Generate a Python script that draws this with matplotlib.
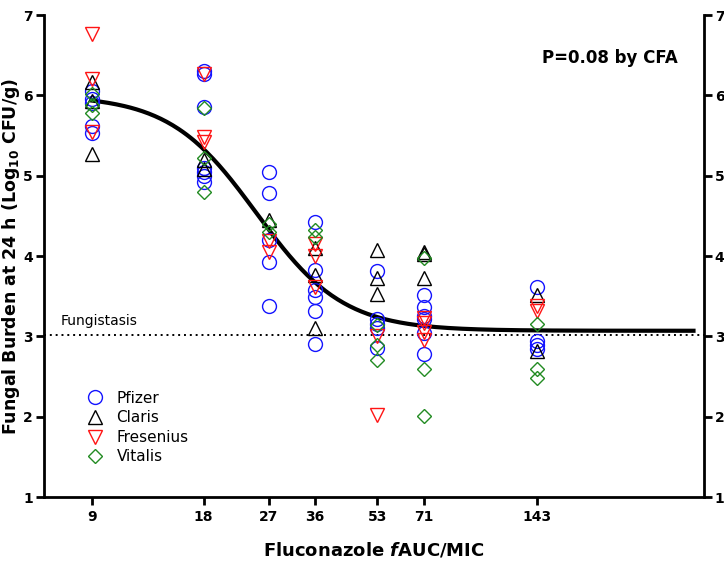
import numpy as np
import matplotlib
matplotlib.use("Agg")
import matplotlib.pyplot as plt

# fAUC/MIC exposures (x) and log10 CFU/g burdens per product
x_ticks = [9, 18, 27, 36, 53, 71, 143]

pfizer_x = [9, 9, 9, 9, 9,
            18, 18, 18, 18, 18, 18, 18,
            27, 27, 27, 27, 27,
            36, 36, 36, 36, 36, 36,
            53, 53, 53, 53, 53,
            71, 71, 71, 71, 71, 71,
            143, 143, 143, 143]
pfizer_y = [6.05, 5.95, 5.90, 5.62, 5.53,
            6.30, 6.26, 5.85, 5.10, 5.05, 5.00, 4.92,
            5.05, 4.78, 4.20, 3.93, 3.38,
            4.43, 3.83, 3.58, 3.49, 3.32, 2.91,
            3.82, 3.22, 3.16, 3.10, 2.86,
            3.52, 3.36, 3.26, 3.22, 3.04, 2.78,
            3.62, 2.94, 2.89, 2.84]

claris_x = [9, 9, 9, 18, 18, 27, 36, 36, 36, 53, 53, 53, 71, 71, 71, 143, 143]
claris_y = [6.17, 5.93, 5.27, 5.20, 5.08, 4.45, 4.10, 3.76, 3.11,
            4.08, 3.73, 3.53, 4.05, 4.02, 3.73, 3.52, 2.82]

fresenius_x = [9, 9, 9, 18, 18, 18, 27, 27, 36, 36, 36, 53, 53, 71, 71, 71, 71, 143, 143]
fresenius_y = [6.77, 6.20, 5.55, 6.27, 5.48, 5.42, 4.19, 4.05, 4.15, 4.00, 3.62,
               3.00, 2.02, 3.23, 3.17, 3.05, 2.95, 3.38, 3.32]

vitalis_x = [9, 9, 9, 18, 18, 18, 27, 27, 36, 36, 53, 53, 53, 71, 71, 71, 143, 143, 143]
vitalis_y = [6.02, 5.88, 5.78, 5.84, 5.22, 4.80, 4.40, 4.30, 4.32, 4.24,
             3.14, 2.89, 2.70, 3.97, 2.60, 2.01, 3.15, 2.60, 2.48]

# fitted sigmoid Emax model
top, bottom, ec50, hill = 6.0, 3.07, 25.0, 3.7
fungistasis = 3.02

fig = plt.figure(figsize=(7.24, 5.78), dpi=100)
ax = fig.add_axes([0.061, 0.140, 0.911, 0.834])

xc = np.logspace(np.log10(9), np.log10(380), 300)
yc = bottom + (top - bottom) / (1 + (xc / ec50) ** hill)
ax.plot(xc, yc, color="black", lw=3, zorder=3)

ax.axhline(fungistasis, color="black", ls=(0, (1, 2)), lw=1.4, zorder=1)
ax.text(7.4, fungistasis + 0.08, "Fungistasis", fontsize=10, va="bottom")

series = [
    (pfizer_x, pfizer_y, "o", "#1414ff", 10, "Pfizer"),
    (claris_x, claris_y, "^", "black", 10, "Claris"),
    (fresenius_x, fresenius_y, "v", "#ff1414", 10, "Fresenius"),
    (vitalis_x, vitalis_y, "D", "#228b22", 7, "Vitalis"),
]
for xs, ys, m, c, ms, lab in series:
    ax.plot(xs, ys, ls="none", marker=m, ms=ms, mfc="none", mec=c, mew=1.0,
            label=lab, zorder=4)

ax.set_xscale("log")
ax.set_xlim(6.67, 405)
ax.set_ylim(1, 7)
ax.set_xticks(x_ticks)
ax.set_xticklabels([str(t) for t in x_ticks], fontweight="bold", fontsize=10)
ax.xaxis.set_minor_locator(matplotlib.ticker.NullLocator())
ax.set_yticks(range(1, 8))
ax.set_yticklabels([str(t) for t in range(1, 8)], fontweight="bold", fontsize=10)
ax.tick_params(axis="both", direction="out", width=2, length=6)
ax.tick_params(axis="y", left=True, right=True, labelleft=True, labelright=True, pad=2)

ax.spines["top"].set_visible(False)
for s in ["left", "right", "bottom"]:
    ax.spines[s].set_linewidth(2)

ax.set_xlabel("Fluconazole $\\mathbfit{f}$AUC/MIC", fontsize=13, fontweight="bold", labelpad=12)
ax.set_ylabel("Fungal Burden at 24 h (Log$_{\\mathbf{10}}$ CFU/g)", fontsize=12.5,
              fontweight="bold", labelpad=1)

ax.text(0.96, 0.90, "P=0.08 by CFA", transform=ax.transAxes, ha="right",
        fontsize=12, fontweight="bold")

ax.legend(loc="lower left", bbox_to_anchor=(0.045, 0.055), frameon=False,
          fontsize=11, handletextpad=0.4, labelspacing=0.3, borderaxespad=0)

fig.savefig("out.png", dpi=100)
